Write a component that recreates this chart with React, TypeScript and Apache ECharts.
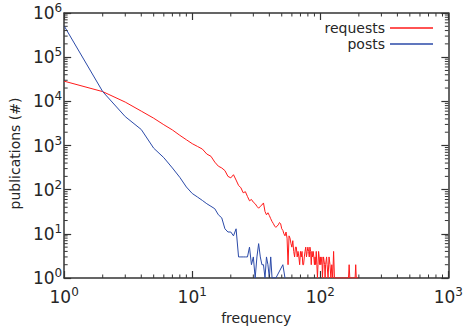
import React, { useEffect, useRef } from "react";
import * as echarts from "echarts";

const requestsFreq = [
  1, 2, 3, 4, 5, 6, 7, 8, 9, 10, 11, 12, 13, 14, 15, 16, 17, 18, 19, 20,
  21, 22, 23, 24, 25, 26, 27, 28, 29, 30, 31, 32, 33, 34, 35, 36, 37, 38, 39, 40,
  41, 42, 43, 44, 45, 46, 47, 48, 49, 50, 51, 52, 53, 54, 55, 56, 57, 58, 59, 60,
  61, 62, 63, 64, 65, 66, 67, 68, 69, 70, 71, 72, 73, 74, 75, 76, 77, 78, 79, 80,
  81, 82, 83, 84, 85, 86, 87, 88, 89, 90, 91, 92, 93, 94, 95, 96, 97, 98, 99, 100,
  101, 103, 104, 105, 106, 108, 109, 110, 112, 113, 115, 117, 119, 121, 123, 125, 127, 129, 131,
  150, 166, 168, 170, 187, 189, 191, 199,
];
const requestsCount = [
  28600, 16600, 9600, 6000, 4150, 2950, 2250, 1700, 1350, 1100, 950, 830, 640, 570, 420, 340, 310, 270, 200, 185,
  218, 165, 125, 110, 85, 90, 70, 56, 60, 52, 48, 42, 38, 42, 45, 50, 32, 27, 30, 26,
  22, 19, 17, 15, 14, 15, 16, 18, 17, 13, 12, 10, 9, 11, 8, 2, 9, 8, 6, 5,
  7, 4, 3, 5, 5, 3, 4, 3, 2, 4, 3, 4, 2, 2, 3, 4, 5, 3, 4, 5,
  4, 3, 5, 4, 2, 4, 3, 4, 3, 2, 3, 2, 4, 2, 1, 2, 4, 3, 2, 3,
  2, 3, 1, 2, 3, 2, 1, 2, 3, 2, 1, 3, 2, 1, 2, 1, 4, 1, 1,
  1, 1, 2, 1, 1, 2, 1, 1,
];

const postsFreq = [
  1, 2, 3, 4, 5, 6, 7, 8, 9, 10, 11, 12, 13, 14, 15, 16, 17, 18, 19, 20,
  21, 22, 23, 24, 25, 26, 27, 28, 29, 30, 31, 32, 33, 34, 35, 36, 37, 38, 39, 40,
  41, 42, 45, 51, 53,
];
const postsCount = [
  510000, 16600, 4500, 2300, 870, 530, 310, 190, 115, 82, 68, 57, 48, 42, 37, 27, 23, 13, 11, 11,
  9, 13, 3, 3, 3, 3, 3, 5, 2, 3, 1, 3, 6, 3, 2, 2, 1, 3, 2, 1,
  3, 1, 1, 2, 1,
];

const xMinorTicks = [2, 3, 4, 5, 6, 7, 8, 9, 20, 30, 40, 50, 60, 70, 80, 90, 200, 300, 400, 500, 600, 700, 800, 900];
const yMinorTicks = [2, 3, 4, 5, 6, 7, 8, 9];
const yDecades = [1, 10, 100, 1000, 10000, 100000];

const seriesNames = ["requests", "posts"];
const seriesColors = ["#ff1a1a", "#2b4aa8"];
const axisColor = "#333333";
const textColor = "#262626";
const font = "DejaVu Sans";

export default function App() {
  const ref = useRef<HTMLDivElement>(null);
  useEffect(() => {
    if (!ref.current) return;
    const chart = echarts.init(ref.current, undefined, { renderer: "svg" });

    const tickData: number[][] = [];
    xMinorTicks.forEach((v) => tickData.push([v, 1, 0]));
    yDecades.forEach((d) => yMinorTicks.forEach((m) => tickData.push([1, d * m, 1])));

    const labelFmt = (v: number) => `{a|10}{b|${Math.round(Math.log10(v))}}`;
    const rich = {
      a: { fontSize: 17, fontFamily: font, color: textColor },
      b: { fontSize: 12, fontFamily: font, color: textColor, padding: [0, 0, 10, 0] },
    };

    const baseX = {
      type: "log" as const,
      logBase: 10,
      min: 1,
      max: 1000,
      splitLine: { show: false },
      axisLine: { show: true, lineStyle: { color: axisColor, width: 1.5 } },
      axisTick: { show: true, inside: true, length: 7, lineStyle: { color: axisColor, width: 1.2 } },
    };
    const baseY = {
      type: "log" as const,
      logBase: 10,
      min: 1,
      max: 1000000,
      splitLine: { show: false },
      axisLine: { show: true, lineStyle: { color: axisColor, width: 1.5 } },
      axisTick: { show: true, inside: true, length: 7, lineStyle: { color: axisColor, width: 1.2 } },
    };

    chart.setOption({
      animation: false,
      grid: { left: 58, right: 10, top: 13, bottom: 53, containLabel: false },
      legend: {
        data: seriesNames.map((n, i) => ({ name: n, itemStyle: { color: seriesColors[i] } })),
        orient: "vertical",
        right: 28,
        top: 16,
        align: "right",
        icon: "rect",
        itemWidth: 43,
        itemHeight: 1.5,
        itemGap: 2,
        textStyle: { fontFamily: font, fontSize: 14, color: textColor, lineHeight: 14 },
      },
      xAxis: [
        {
          ...baseX,
          position: "bottom",
          name: "frequency",
          nameLocation: "middle",
          nameGap: 33,
          nameTextStyle: { fontFamily: font, fontSize: 14, color: textColor },
          axisLabel: { formatter: labelFmt, rich, margin: 8 },
        },
        { ...baseX, position: "top", axisLabel: { show: false } },
      ],
      yAxis: [
        {
          ...baseY,
          position: "left",
          name: "publications (#)",
          nameLocation: "middle",
          nameGap: 32,
          nameTextStyle: { fontFamily: font, fontSize: 14, color: textColor, padding: [0, 16, 0, 0] },
          axisLabel: { formatter: labelFmt, rich, margin: 2 },
        },
        { ...baseY, position: "right", axisLabel: { show: false } },
      ],
      series: [
        {
          name: "requests",
          type: "line",
          data: requestsFreq.map((f, i) => [f, requestsCount[i]]),
          showSymbol: false,
          symbol: "none",
          itemStyle: { color: seriesColors[0] },
          lineStyle: { width: 1, color: seriesColors[0] },
          z: 3,
        },
        {
          name: "posts",
          type: "line",
          data: postsFreq.map((f, i) => [f, postsCount[i]]),
          showSymbol: false,
          symbol: "none",
          itemStyle: { color: seriesColors[1] },
          lineStyle: { width: 1, color: seriesColors[1] },
          z: 4,
        },
        {
          name: "minorTicks",
          type: "custom",
          silent: true,
          clip: false,
          z: 5,
          data: tickData,
          renderItem: (params: any, api: any) => {
            const cs = params.coordSys;
            const kind = api.value(2);
            const p = api.coord([api.value(0), api.value(1)]);
            const L = 3.5;
            const style = { stroke: axisColor, lineWidth: 1 };
            if (kind === 0) {
              const b = cs.y + cs.height;
              return {
                type: "group",
                children: [
                  { type: "line", shape: { x1: p[0], y1: b, x2: p[0], y2: b - L }, style },
                  { type: "line", shape: { x1: p[0], y1: cs.y, x2: p[0], y2: cs.y + L }, style },
                ],
              };
            }
            const r = cs.x + cs.width;
            return {
              type: "group",
              children: [
                { type: "line", shape: { x1: cs.x, y1: p[1], x2: cs.x + L, y2: p[1] }, style },
                { type: "line", shape: { x1: r, y1: p[1], x2: r - L, y2: p[1] }, style },
              ],
            };
          },
        },
      ],
    });
    return () => chart.dispose();
  }, []);

  return (
    <div
      ref={ref}
      style={{ position: "fixed", left: 0, top: 0, width: 466, height: 331, background: "#fff" }}
    />
  );
}
